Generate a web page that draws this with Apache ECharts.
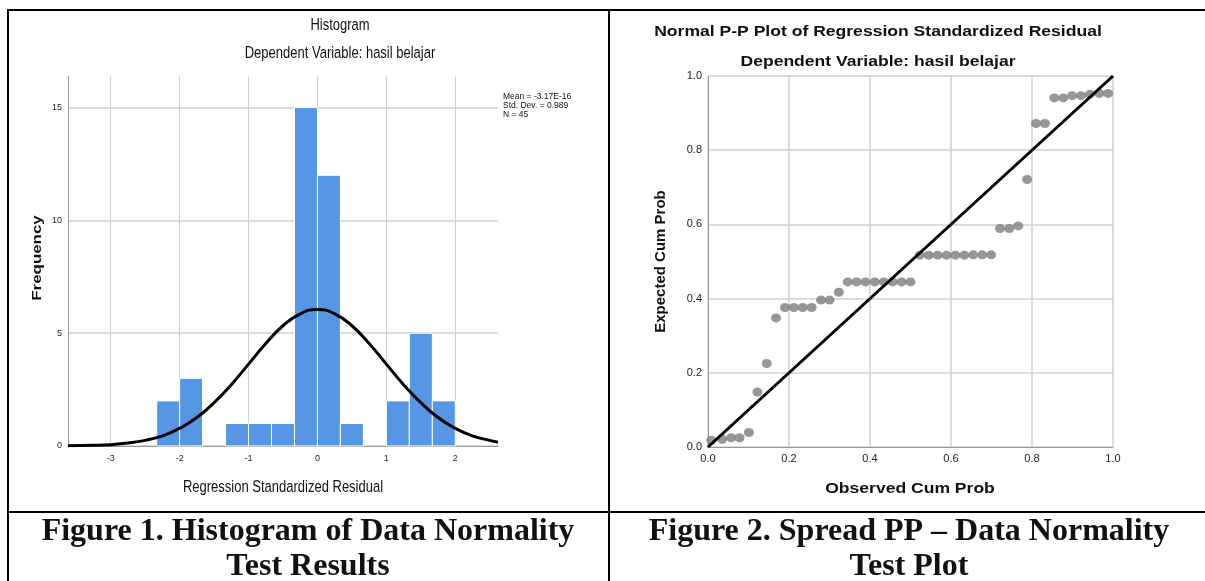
<!DOCTYPE html>
<html>
<head>
    <meta charset="utf-8">
    <title>Histogram and Normal P-P Plot</title>
    <script src="https://cdn.jsdelivr.net/npm/echarts@6/dist/echarts.min.js"></script>
    <style>
        html, body { margin: 0; padding: 0; background: #fff; }
    </style>
</head>
<body>
    <div id="main" style="width: 1205px;height:581px;"></div>
    <script type="text/javascript">
        // histogram bins: start, end, frequency
        var binStart = [-2.333, -2, -1.333, -1, -0.667, -0.333, 0, 0.333, 1, 1.333, 1.667];
        var binEnd = [-2, -1.667, -1, -0.667, -0.333, 0, 0.333, 0.667, 1.333, 1.667, 2];
        var binCount = [2, 3, 1, 1, 1, 15, 12, 1, 2, 5, 2];

        // normal curve
        var curveX = [-3.62, -3.25, -3, -2.75, -2.5, -2.25, -2, -1.75, -1.5, -1.25, -1, -0.75, -0.5, -0.25, 0,
            0.25, 0.5, 0.75, 1, 1.25, 1.5, 1.75, 2, 2.25, 2.5, 2.62];
        var curveY = [0.01, 0.03, 0.06, 0.13, 0.25, 0.45, 0.78, 1.26, 1.92, 2.72, 3.63, 4.54, 5.33, 5.86, 6.05,
            5.86, 5.33, 4.54, 3.63, 2.72, 1.92, 1.26, 0.78, 0.45, 0.25, 0.17];

        var statLines = ['Mean = -3.17E-16', 'Std. Dev. = 0.989', 'N = 45'];

        // P-P plot points
        var observed = [0.008, 0.035, 0.057, 0.078, 0.101, 0.122, 0.145, 0.168, 0.190, 0.212, 0.234, 0.256,
            0.279, 0.300, 0.323, 0.345, 0.367, 0.389, 0.412, 0.434, 0.456, 0.478, 0.500, 0.523, 0.545, 0.567,
            0.589, 0.611, 0.633, 0.655, 0.677, 0.699, 0.721, 0.744, 0.766, 0.788, 0.810, 0.832, 0.855, 0.877,
            0.899, 0.921, 0.943, 0.966, 0.988];
        var expected = [0.018, 0.021, 0.025, 0.025, 0.039, 0.148, 0.225, 0.348, 0.376, 0.376, 0.376, 0.376,
            0.396, 0.396, 0.417, 0.445, 0.445, 0.445, 0.445, 0.445, 0.445, 0.445, 0.445, 0.517, 0.517, 0.517,
            0.517, 0.517, 0.517, 0.518, 0.518, 0.518, 0.589, 0.589, 0.596, 0.721, 0.872, 0.872, 0.941, 0.941,
            0.947, 0.947, 0.951, 0.953, 0.953];
        var diagX = [0, 1];
        var diagY = [0, 1];

        var sans = '"Liberation Sans", Arial, sans-serif';
        var serif = '"Liberation Serif", "Times New Roman", serif';

        var bins = binStart.map((s, i) => [s, binEnd[i], binCount[i]]);
        var curve = curveX.map((x, i) => [x, curveY[i]]);
        var points = observed.map((x, i) => [x, expected[i]]);
        var diag = diagX.map((x, i) => [x, diagY[i]]);

        function border(x1, y1, x2, y2) {
            return { type: 'line', shape: {x1: x1, y1: y1, x2: x2, y2: y2},
                style: {stroke: '#000', lineWidth: 2} };
        }
        // sx / sy stretch the text like the scanned figure
        function label(x, y, text, font, size, weight, align, sx, sy, rot) {
            return { type: 'text', x: x, y: y, scaleX: sx || 1, scaleY: sy || 1, rotation: rot || 0,
                style: {text: text, fontFamily: font, fontSize: size, fontWeight: weight || 'normal',
                    fill: '#111', align: align || 'center', verticalAlign: 'middle'} };
        }

        var graphics = [
            border(8, 10, 1205, 10),
            border(8, 9, 8, 581),
            border(609, 10, 609, 581),
            border(8, 512, 1205, 512),
            label(340, 26, 'Histogram', sans, 13, 'normal', 'center', 1, 1.25),
            label(340, 54, 'Dependent Variable: hasil belajar', sans, 13, 'normal', 'center', 1, 1.25),
            label(283, 488, 'Regression Standardized Residual', sans, 13, 'normal', 'center', 1, 1.25),
            label(37, 258, 'Frequency', sans, 13, 'bold', 'center', 1.3, 1, Math.PI / 2),
            label(878, 32, 'Normal P-P Plot of Regression Standardized Residual', sans, 15, 'bold', 'center', 1.17, 1),
            label(878, 62, 'Dependent Variable: hasil belajar', sans, 15, 'bold', 'center', 1.17, 1),
            label(910, 489, 'Observed Cum Prob', sans, 15, 'bold', 'center', 1.17, 1),
            label(308, 532, 'Figure 1. Histogram of Data Normality', serif, 32, 'bold'),
            label(308, 567, 'Test Results', serif, 32, 'bold'),
            label(909, 532, 'Figure 2. Spread PP \u2013 Data Normality', serif, 32, 'bold'),
            label(909, 567, 'Test Plot', serif, 32, 'bold')
        ];
        statLines.forEach((t, i) => graphics.push(label(503, 96 + i * 9, t, sans, 8.5, 'normal', 'left', 1, 1.15)));

        var option = {
            animation: false,
            graphic: graphics,
            grid: [
                {left: 68, top: 76, width: 430, height: 370},
                {left: 708, top: 76, width: 405, height: 371}
            ],
            xAxis: [
                {
                    gridIndex: 0, type: 'value', min: -3.62, max: 2.62,
                    axisLine: {onZero: false, lineStyle: {color: '#999'}},
                    axisTick: {show: false},
                    axisLabel: {fontFamily: sans, fontSize: 9, color: '#222', margin: 8,
                        showMinLabel: false, showMaxLabel: false},
                    splitLine: {lineStyle: {color: '#d0d0d0'}, showMinLine: false, showMaxLine: false}
                },
                {
                    gridIndex: 1, type: 'value', min: 0, max: 1, interval: 0.2,
                    axisLine: {onZero: false, lineStyle: {color: '#999'}},
                    axisTick: {show: false},
                    axisLabel: {fontFamily: sans, fontSize: 11, color: '#222', margin: 6,
                        formatter: v => v.toFixed(1)},
                    splitLine: {lineStyle: {color: '#d0d0d0', width: 1.5}}
                }
            ],
            yAxis: [
                {
                    gridIndex: 0, type: 'value', min: 0, max: 16.4, interval: 5,
                    axisLine: {show: true, onZero: false, lineStyle: {color: '#999'}},
                    axisTick: {show: false},
                    axisLabel: {fontFamily: sans, fontSize: 9, color: '#222', margin: 6,
                        showMaxLabel: false},
                    splitLine: {lineStyle: {color: '#d0d0d0', width: 1.5}, showMaxLine: false}
                },
                {
                    gridIndex: 1, type: 'value', min: 0, max: 1, interval: 0.2,
                    name: 'Expected Cum Prob', nameLocation: 'middle', nameGap: 40,
                    nameTextStyle: {fontFamily: sans, fontSize: 15, fontWeight: 'bold', color: '#111'},
                    axisLine: {show: true, onZero: false, lineStyle: {color: '#999'}},
                    axisTick: {show: false},
                    axisLabel: {fontFamily: sans, fontSize: 11, color: '#222', margin: 6,
                        formatter: v => v.toFixed(1)},
                    splitLine: {lineStyle: {color: '#d0d0d0', width: 1.5}}
                }
            ],
            series: [
                {
                    type: 'custom', xAxisIndex: 0, yAxisIndex: 0,
                    data: bins,
                    renderItem: function (params, api) {
                        var p0 = api.coord([api.value(0), api.value(2)]);
                        var p1 = api.coord([api.value(1), 0]);
                        return {
                            type: 'rect',
                            shape: {x: p0[0], y: p0[1], width: p1[0] - p0[0], height: p1[1] - p0[1]},
                            style: {fill: '#5596e5', stroke: '#ffffff', lineWidth: 1}
                        };
                    }
                },
                {
                    type: 'line', xAxisIndex: 0, yAxisIndex: 0,
                    data: curve, smooth: true, showSymbol: false,
                    lineStyle: {color: '#000', width: 3}, z: 5
                },
                {
                    type: 'scatter', xAxisIndex: 1, yAxisIndex: 1,
                    data: points, symbolSize: [10, 9],
                    itemStyle: {color: '#7d7d7d'}
                },
                {
                    type: 'line', xAxisIndex: 1, yAxisIndex: 1,
                    data: diag, showSymbol: false,
                    lineStyle: {color: '#000', width: 3}, z: 5
                }
            ]
        };

        var chart = echarts.init(document.getElementById('main'));
        chart.setOption(option);
    </script>
</body>
</html>
